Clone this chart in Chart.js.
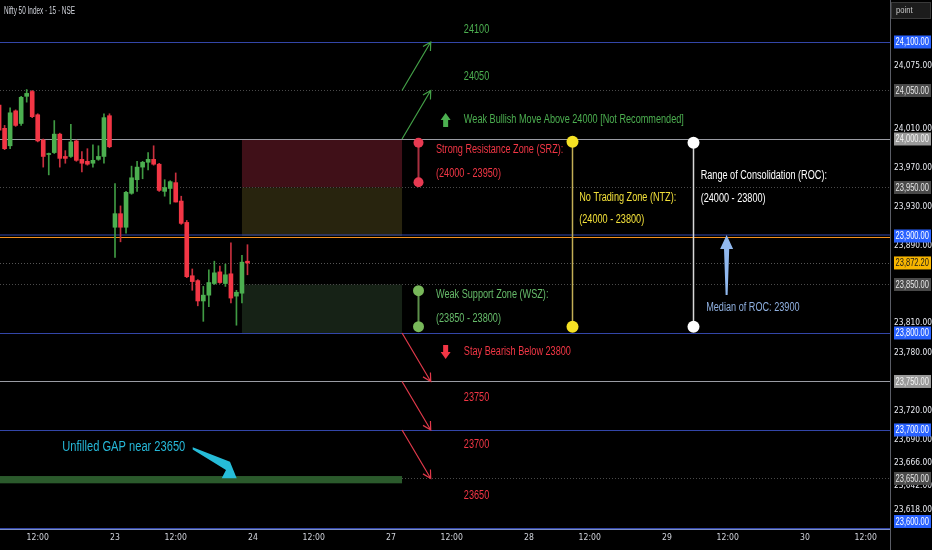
<!DOCTYPE html>
<html><head><meta charset="utf-8">
<script src="https://cdn.jsdelivr.net/npm/chart.js@4.4.1/dist/chart.umd.min.js"></script>
<style>html,body{margin:0;padding:0;background:#000;overflow:hidden}#wrap{width:932px;height:550px}</style>
</head><body><div id="wrap"><canvas id="c" width="932" height="550"></canvas></div>
<script>
// ---- DATA (15-minute bars; index 0 = 23 Jan 09:15, 25 bars per session) ----
const barIndex = [-21,-20,-19,-18,-17,-16,-15,-14,-13,-12,-11,-10,-9,-8,-7,-6,-5,-4,-3,-2,-1,
  0,1,2,3,4,5,6,7,8,9,10,11,12,13,14,15,16,17,18,19,20,21,22,23,24];
const opens = [24035,24011,23993,24029,24016,24044,24049,24025,23999,23984,23986,24005,23982,23982,23998,23979,23977,23975,23979,23982,24024,
  23909,23923,23909,23944,23958,23971,23976,23979,23974,23946,23949,23955,23936,23914,23859,23854,23833,23839,23851,23863,23851,23861,23838,23841,23874];
const highs = [24037,24014,24032,24030,24044,24051,24050,24026,24000,23985.5,24019,24006,23988,24015,23999,23987,23990,23994,23993,24026,24026,
  23954,23931,23946,23972,23977,23977,23986,23993,23975,23958,23957,23965,23941,23916,23866,23855,23848,23865,23874,23869,23871,23893,23844,23880,23891];
const lows = [24007,23989,23990,24013,24014,24038,24022,23997,23971,23963,23985,23971,23975,23981,23977,23966,23973,23971,23978,23975,23991,
  23878,23894,23903,23943,23946,23959,23968,23973,23946,23941,23933,23935,23912,23857,23844,23828,23812,23827,23850,23851,23848,23831,23808,23831,23860];
const closes = [24009,23990,24027,24014,24043,24047,24023,23998,23982,23985,24005,23980,23980,23997,23978,23975,23974,23978,23982,24022,23992,
  23923,23909,23945,23960,23971,23976,23979,23974,23947,23950,23956,23935,23913,23858,23853,23833,23839,23852,23862,23852,23860,23836,23842,23873,23872.2];

const timeTickIndex  = [-14,0,11,25,36,50,61,75,86,100,111,125,136];
const timeTickLabels = ['12:00','23','12:00','24','12:00','27','12:00','28','12:00','29','12:00','30','12:00'];
const priceTicks = [24075,24010,23970,23930,23890,23810,23780,23720,23690,23666,23642,23618];
const lastPrice = 23872.2;

// drawn levels and their price-axis badges
const levelPrices = [24100,24050,24000,23950,23900,23850,23800,23750,23700,23650,23600];
const levelKinds  = ['blue','dot','grey','dot','blue','dot','blue','grey','blue','dot','blue'];

// zones (price ranges) between bar indices
const zoneRanges = [[24000,23950],[23950,23900],[23850,23800]];
const zoneKinds  = ['srz','ntzFill','wsz'];
const zoneBars   = [23,52];
const gapRange   = [23652.5,23645];
const gapBars    = [-21,52];

// target arrows [fromPrice, toPrice], from bar 52 to bar 57.2
const arrowBars = [52,57.2];
const bullArrows = [[24050,24100],[24000,24050]];
const bearArrows = [[23800,23750],[23750,23700],[23700,23650]];

// vertical range markers: bar, topPrice, bottomPrice
const markerBars   = [54.95,54.95,82.84,104.76];
const markerTop    = [23996.2,23843.6,23997.2,23996.2];
const markerBottom = [23955.4,23806.5,23806.5,23806.5];
const markerKinds  = ['srz','wsz','ntz','roc'];

// text notes
const noteText = ['24100','24050','Weak Bullish Move Above 24000 [Not Recommended]',
  'Strong Resistance Zone (SRZ):','(24000 - 23950)','No Trading Zone (NTZ):','(24000 - 23800)',
  'Range of Consolidation (ROC):','(24000 - 23800)','Weak Support Zone (WSZ):','(23850 - 23800)',
  'Median of ROC: 23900','Stay Bearish Below 23800','23750','23700','23650','Unfilled GAP near 23650'];
const noteBar = [63.2,63.2,63.2,58.15,58.15,84.1,84.1,106.1,106.1,58.15,58.15,107.1,63.2,63.2,63.2,63.2,-9.55];
const notePrice = [24112.4,24063.9,24019.6,23988.7,23963.9,23940.0,23916.5,23962.0,23938.1,23839.2,23814.4,23826.6,23780.7,23733.7,23684.8,23632.7,23682.8];
const noteKinds = ['bull','bull','bull','srz','srz','ntz','ntz','roc','roc','wsz','wsz','median','bear','bear','bear','bear','gap'];

// icons and pointer arrows
const upIcon = [59.9,24019.6];
const downIcon = [59.9,23780.4];
const medianArrow = [110.8,23839.2,23901];          // bar, tail price, tip price
const gapPointerBars   = [14.08,20.83,22.05,19.33,20.11,14.08];
const gapPointerPrices = [23682.2,23667.3,23650.2,23650.2,23658.8,23679.9];

// ---- STYLES ----
const UP='#4caf50', DOWN='#f23645';
const COL = {bull:'#4caf50', bear:'#f23645', srz:'#f23645', wsz:'#66bb6a', ntz:'#f2e03a', roc:'#ffffff', median:'#8fb0e0', gap:'#26b8d8'};
const LINE = {blue:'#3346a8', grey:'#9a9ca4', dot:'#4a4a4a'};
const ZONE = {srz:'#401018', ntzFill:'#28240e', wsz:'#162216'};
const MARK = {srz:['#a83040','#e83a52',5], wsz:['#5c8f4a','#78b85a',5.5], ntz:['#c2ae55','#f5e124',6], roc:['#d8d8d8','#ffffff',6]};

function hasFont(n){const c=document.createElement('canvas').getContext('2d');const s='mmmmmmmmmwwwlliI 0123456789';
  let r=false;['monospace','serif'].forEach(b=>{c.font='40px '+b;const a=c.measureText(s).width;c.font='40px "'+n+'", '+b;if(c.measureText(s).width!==a)r=true;});return r;}
const FONT = ['Liberation Sans Narrow','DejaVu Sans Condensed','Roboto Condensed','Liberation Sans'].find(hasFont) || 'sans-serif';
const FF = '"'+FONT+'", sans-serif';
const NF = '"Liberation Sans", Arial, sans-serif';
Chart.defaults.font.family = FF;

function fmt(v){return v.toLocaleString('en-US',{minimumFractionDigits:2,maximumFractionDigits:2});}

// horizontal condensing so that text widths match the narrow chart font
function fitFactor(ctx,font,text,target){ctx.save();ctx.font=font;const w=ctx.measureText(text).width;ctx.restore();return target/w;}
function narrowText(ctx,t,x,y,k){ctx.save();ctx.translate(x,y);ctx.scale(k,1);ctx.fillText(t,0,0);ctx.restore();}

const annot = {
  id:'annot',
  beforeDatasetsDraw(chart){
    const {ctx, chartArea:a, scales:{x,y}} = chart;
    ctx.save(); ctx.beginPath(); ctx.rect(a.left,a.top,a.right-a.left,a.bottom-a.top); ctx.clip();
    zoneRanges.forEach((r,i)=>{ctx.fillStyle=ZONE[zoneKinds[i]];
      const x1=x.getPixelForValue(zoneBars[0]),x2=x.getPixelForValue(zoneBars[1]);
      const y1=y.getPixelForValue(r[0]),y2=y.getPixelForValue(r[1]);ctx.fillRect(x1,y1,x2-x1,y2-y1);});
    levelPrices.forEach((p,i)=>{const k=levelKinds[i];let py=Math.round(y.getPixelForValue(p))+0.5;
      if(p===23600)py=a.bottom-0.5;
      ctx.strokeStyle=LINE[k];ctx.lineWidth=1;ctx.setLineDash(k==='dot'?[1,2]:[]);
      if(p===23900){py-=1.5;}
      ctx.beginPath();ctx.moveTo(a.left,py);ctx.lineTo(a.right,py);ctx.stroke();});
    ctx.setLineDash([]);ctx.strokeStyle='#f7931e';ctx.lineWidth=1.2;
    let oy=Math.round(y.getPixelForValue(23900))+1.5;ctx.beginPath();ctx.moveTo(a.left,oy);ctx.lineTo(a.right,oy);ctx.stroke();
    ctx.lineWidth=1;ctx.strokeStyle='#555';ctx.setLineDash([1,2]);
    let ly=Math.round(y.getPixelForValue(lastPrice))+0.5;ctx.beginPath();ctx.moveTo(a.left,ly);ctx.lineTo(a.right,ly);ctx.stroke();
    ctx.setLineDash([]);
    ctx.fillStyle='#2b5a2c';
    const gx1=x.getPixelForValue(gapBars[0]),gx2=x.getPixelForValue(gapBars[1]);
    const gy1=y.getPixelForValue(gapRange[0]),gy2=y.getPixelForValue(gapRange[1]);
    ctx.fillRect(gx1,gy1,gx2-gx1,gy2-gy1);
    ctx.restore();
  },
  afterDatasetsDraw(chart){
    const {ctx, chartArea:a, scales:{x,y}} = chart;
    const X=v=>x.getPixelForValue(v), Y=v=>y.getPixelForValue(v);
    ctx.save();
    function arrow(x1,y1,x2,y2,col){ctx.strokeStyle=col;ctx.lineWidth=1.2;ctx.beginPath();ctx.moveTo(x1,y1);ctx.lineTo(x2,y2);
      const an=Math.atan2(y2-y1,x2-x1),L=9,s=0.5;
      ctx.moveTo(x2-L*Math.cos(an-s),y2-L*Math.sin(an-s));ctx.lineTo(x2,y2);ctx.lineTo(x2-L*Math.cos(an+s),y2-L*Math.sin(an+s));ctx.stroke();}
    bullArrows.forEach(r=>arrow(X(arrowBars[0]),Y(r[0]),X(arrowBars[1]),Y(r[1]),'#43a047'));
    bearArrows.forEach(r=>arrow(X(arrowBars[0]),Y(r[0]),X(arrowBars[1]),Y(r[1]),'#e0394a'));
    markerBars.forEach((b,i)=>{const m=MARK[markerKinds[i]];const px=Math.round(X(b))+0.5;
      ctx.strokeStyle=m[0];ctx.lineWidth=markerKinds[i]==='srz'||markerKinds[i]==='wsz'?2:1.5;
      ctx.beginPath();ctx.moveTo(px,Y(markerTop[i]));ctx.lineTo(px,Y(markerBottom[i]));ctx.stroke();
      ctx.fillStyle=m[1];[markerTop[i],markerBottom[i]].forEach(p=>{ctx.beginPath();ctx.arc(px,Y(p),m[2],0,Math.PI*2);ctx.fill();});});
    function blockArrow(cx,cy,dir,col){ctx.fillStyle=col;ctx.beginPath();const h=7*dir;
      ctx.moveTo(cx,cy-h);ctx.lineTo(cx+5,cy);ctx.lineTo(cx+2.5,cy);ctx.lineTo(cx+2.5,cy+h);ctx.lineTo(cx-2.5,cy+h);ctx.lineTo(cx-2.5,cy);ctx.lineTo(cx-5,cy);ctx.closePath();ctx.fill();}
    blockArrow(X(upIcon[0]),Y(upIcon[1]),1,'#4caf50');
    blockArrow(X(downIcon[0]),Y(downIcon[1]),-1,'#f23645');
    {const mx=X(medianArrow[0]),ty=Y(medianArrow[1]),hy=Y(medianArrow[2]);ctx.fillStyle='#90b8ee';ctx.beginPath();
      ctx.moveTo(mx,hy);ctx.lineTo(mx+6.5,hy+14);ctx.lineTo(mx+2.6,hy+14);ctx.lineTo(mx+1,ty);ctx.lineTo(mx-1,ty);ctx.lineTo(mx-2.6,hy+14);ctx.lineTo(mx-6.5,hy+14);ctx.closePath();ctx.fill();}
    ctx.fillStyle='#26bcd8';ctx.beginPath();
    gapPointerBars.forEach((b,i)=>{const px=X(b),py=Y(gapPointerPrices[i]);if(i===0)ctx.moveTo(px,py);else ctx.lineTo(px,py);});
    ctx.closePath();ctx.fill();
    // notes
    const f11='12.5px '+NF, f13='14px '+NF;
    const k11=fitFactor(ctx,f11,noteText[2],220), k13=fitFactor(ctx,f13,noteText[16],123);
    ctx.textBaseline='middle';ctx.textAlign='left';
    noteText.forEach((t,i)=>{const g=noteKinds[i]==='gap';ctx.fillStyle=COL[noteKinds[i]];ctx.font=g?f13:f11;
      narrowText(ctx,t,X(noteBar[i]),Y(notePrice[i]),g?k13:k11);});
    ctx.restore();
  },
  afterDraw(chart){
    const {ctx, chartArea:a, scales:{y}} = chart;
    ctx.save();
    ctx.strokeStyle='#5a5d66';ctx.lineWidth=1;ctx.beginPath();ctx.moveTo(a.right+0.5,0);ctx.lineTo(a.right+0.5,550);ctx.stroke();
    ctx.strokeStyle='#7d8fc4';ctx.beginPath();ctx.moveTo(0,a.bottom+0.5);ctx.lineTo(a.right,a.bottom+0.5);ctx.stroke();
    const badge={blue:['#2962ff','#ffffff'],dot:['#4a4a4a','#e6e6e6'],grey:['#9a9a9a','#f4f4f4']};
    const bf='10.5px '+NF, kb=fitFactor(ctx,bf,'24,100.00',33.5);
    ctx.font=bf;ctx.textBaseline='middle';ctx.textAlign='left';
    function drawBadge(p,bg,fg){let cy=y.getPixelForValue(p);cy=Math.min(Math.max(cy,7),a.bottom-7.5);
      ctx.fillStyle=bg;ctx.fillRect(a.right+4,cy-6.5,37,13);ctx.fillStyle=fg;narrowText(ctx,fmt(p),a.right+5.5,cy+0.5,kb);}
    levelPrices.forEach((p,i)=>{const b=badge[levelKinds[i]];drawBadge(p,b[0],b[1]);});
    drawBadge(lastPrice,'#f7b500','#1a1a1a');
    ctx.fillStyle='#d1d4dc';ctx.font='10px '+NF;narrowText(ctx,'Nifty 50 Index · 15 · NSE',4,11,fitFactor(ctx,'10px '+NF,'Nifty 50 Index · 15 · NSE',71));
    ctx.fillStyle='#1c1c1c';ctx.fillRect(891,2,40,17);ctx.strokeStyle='#3a3a3a';ctx.strokeRect(891.5,2.5,39,16);
    ctx.fillStyle='#c8c8c8';ctx.font='9px '+NF;narrowText(ctx,'point',896,11,0.85);
    ctx.restore();
  }
};

const ctx = document.getElementById('c').getContext('2d');
new Chart(ctx,{
  type:'bar',
  data:{datasets:[
    {label:'body',data:barIndex.map((b,i)=>({x:b,y:[opens[i],closes[i]]})),
     backgroundColor:opens.map((o,i)=>closes[i]>=o?UP:DOWN),barThickness:4,grouped:false,minBarLength:1,borderWidth:0,order:0},
    {label:'wick',data:barIndex.map((b,i)=>({x:b,y:[lows[i],highs[i]]})),
     backgroundColor:opens.map((o,i)=>closes[i]>=o?'#3f9a43':'#c8303e'),barThickness:1,grouped:false,borderWidth:0,order:1}
  ]},
  options:{
    responsive:false,animation:false,events:[],
    layout:{padding:0},
    plugins:{legend:{display:false},tooltip:{enabled:false}},
    scales:{
      x:{type:'linear',offset:false,min:-20.833,max:-20.833+890/5.52,grid:{display:false,drawTicks:false},border:{display:false},
        afterBuildTicks:s=>{s.ticks=timeTickIndex.map(v=>({value:v}));},
        ticks:{autoSkip:false,maxRotation:0,color:'#d1d4dc',font:{size:8.6},padding:4,
          callback:v=>timeTickLabels[timeTickIndex.indexOf(v)]},
        afterFit:s=>{s.height=21;s.paddingLeft=0;s.paddingRight=0;}},
      y:{position:'right',min:23597.9,max:24143.3,beginAtZero:false,grid:{display:false,drawTicks:false},border:{display:false},
        afterBuildTicks:s=>{s.ticks=priceTicks.map(v=>({value:v}));},
        ticks:{autoSkip:false,color:'#e8eaf0',font:{size:8.3},padding:4,callback:v=>fmt(v)},
        afterFit:s=>{s.width=42;s.paddingTop=0;s.paddingBottom=0;}}
    }
  },
  plugins:[annot]
});
</script></body></html>
